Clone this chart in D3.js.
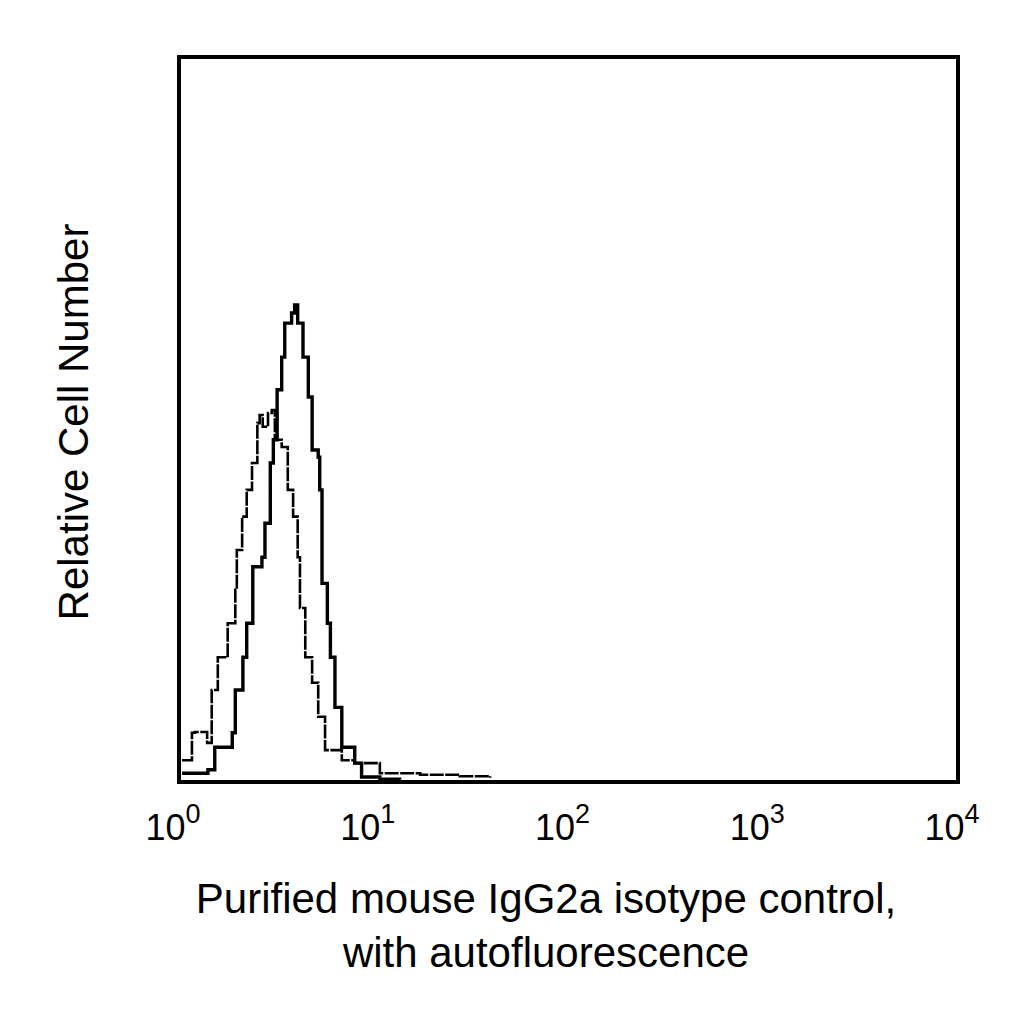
<!DOCTYPE html>
<html>
<head>
<meta charset="utf-8">
<script src="https://cdn.jsdelivr.net/npm/d3@7"></script>
<style>
  body { margin: 0; background: #fff; }
  text { font-family: "Liberation Sans", Arial, sans-serif; fill: #000; }
</style>
</head>
<body>
<div id="chart"></div>
<script>
// channel (0-1024 over 4 decades) and relative count
const isoChannel = [4,17,21,37,43,51,64,74,76,83,89,96,103,106,110,117,122,126,135,143,150,156,159,166,175,183,192,214,231,264,317,369,409];
const isoCount   = [3.0,6.8,6.9,5.4,12.7,17.2,21.9,26.5,32,36.6,40.3,44,49.5,50.6,49,50.9,51.3,47.2,46.2,40.3,36.6,31,24,17.2,13.7,9.0,4.4,3.0,2.6,1.2,1.0,0.8,0.6];
const autoChannel = [4,38,47,70,74,84,89,97,109,113,120,124,129,135,139,148,152,156,163,170,175,183,185,188,195,199,205,214,231,240,264,290];
const autoCount   = [1.2,1.7,4.8,6.8,12.7,17.2,21.9,29.7,31,35.7,44,47.2,54.1,58.6,63.3,64.7,65.8,63.3,58.6,53.1,45.8,44.8,40.3,27.4,21.9,17.2,10.3,4.8,2.6,0.7,0.4,0.3];
const tickExp = [0, 1, 2, 3, 4];

const margin = { top: 57, left: 179, right: 66, bottom: 242 };
const width = 1024 - margin.left - margin.right;
const height = 1024 - margin.top - margin.bottom;

const svg = d3.select("#chart").append("svg")
  .attr("width", 1024).attr("height", 1024);
const g = svg.append("g").attr("transform", `translate(${margin.left},${margin.top})`);

const x = d3.scaleLog().domain([1, 10000]).range([0, width]);
const y = d3.scaleLinear().domain([0, 100]).range([height, 0]);
const toVal = ch => Math.pow(10, ch / 256);

const line = d3.line()
  .x(d => x(toVal(d[0])))
  .y(d => y(d[1]))
  .curve(d3.curveStepAfter);

// isotype (broken line)
g.append("path")
  .datum(d3.zip(isoChannel, isoCount))
  .attr("d", line)
  .attr("fill", "none").attr("stroke", "#000")
  .attr("stroke-width", 2.6).attr("stroke-dasharray", "14,1.5");

// autofluorescence (solid, thicker)
g.append("path")
  .datum(d3.zip(autoChannel, autoCount))
  .attr("d", line)
  .attr("fill", "none").attr("stroke", "#000")
  .attr("stroke-width", 3.4);

// frame
g.append("rect").attr("width", width).attr("height", height)
  .attr("fill", "none").attr("stroke", "#000").attr("stroke-width", 4);

// tick labels 10^n
tickExp.forEach(e => {
  const t = g.append("text")
    .attr("x", x(Math.pow(10, e)) - 6)
    .attr("y", height + 58)
    .attr("text-anchor", "middle")
    .style("font-size", "36px");
  t.append("tspan").text("10");
  t.append("tspan").attr("dy", -17).style("font-size", "27px").text(e);
});

svg.append("text")
  .attr("x", 546).attr("y", 913)
  .attr("text-anchor", "middle").style("font-size", "42px")
  .text("Purified mouse IgG2a isotype control,");
svg.append("text")
  .attr("x", 546).attr("y", 967)
  .attr("text-anchor", "middle").style("font-size", "42px")
  .text("with autofluorescence");

svg.append("text")
  .attr("transform", "translate(88,422) rotate(-90)")
  .attr("text-anchor", "middle").style("font-size", "42px")
  .text("Relative Cell Number");
</script>
</body>
</html>
